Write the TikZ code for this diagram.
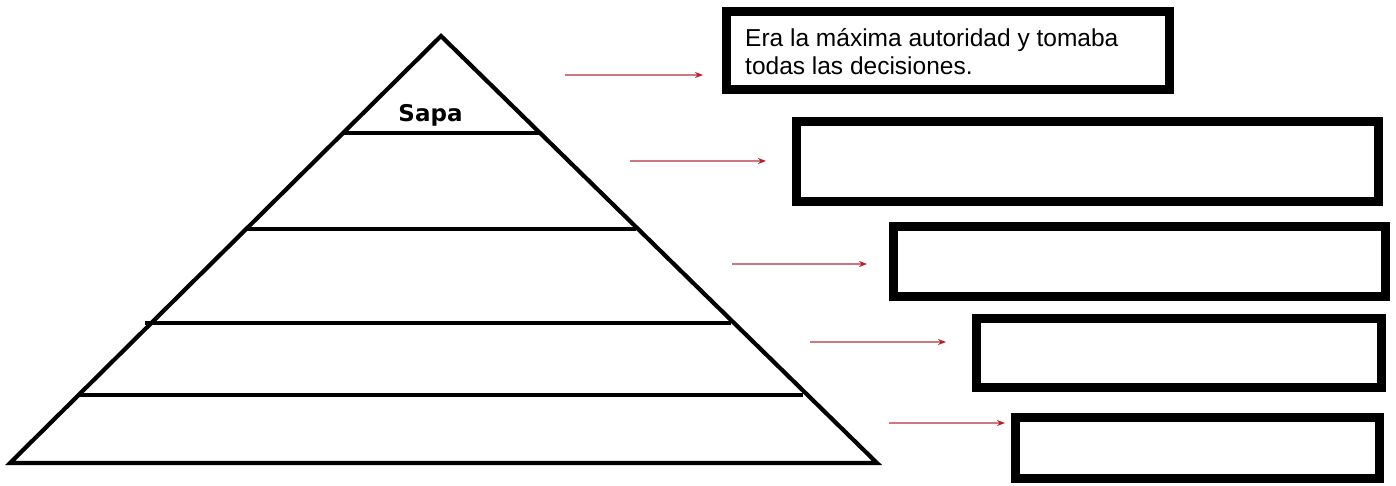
\documentclass[tikz,border=0pt]{standalone}
\usepackage{fontspec}
\setmainfont{Liberation Sans}
\newfontfamily\sapafont{DejaVu Sans}
\usetikzlibrary{arrows.meta}
\definecolor{arrline}{RGB}{205,120,128}
\definecolor{arrtip}{RGB}{190,30,40}
\tikzset{
  answerbox/.style={draw=black, line width=9pt, fill=white, inner sep=0pt},
  arr/.style={draw=arrline, line width=1.8pt, -{Stealth[length=8pt,width=6pt,color=arrtip]}},
  pyr/.style={line width=4.2pt, line join=miter, line cap=butt},
  tier/.style={line width=4pt}
}
\begin{document}
\begin{tikzpicture}[x=1pt,y=-1pt]
\useasboundingbox[fill=white] (0,0) rectangle (1396,485);
% pyramid
\coordinate (apex) at (441,36);
\coordinate (bl) at (10,463);
\coordinate (br) at (877,463);
\draw[pyr] (bl) -- (apex) -- (br) -- cycle;
\draw[tier] (343,133) -- (539,133);
\draw[tier] (246,229) -- (636,229);
\draw[tier] (145,323) -- (731,323);
\draw[tier] (79,395) -- (803,395);
\node[font=\sapafont\bfseries\fontsize{23}{26}\selectfont, anchor=base, inner sep=0pt] (sapa) at (430.5,121) {Sapa};
% boxes
\node[answerbox, minimum width=443pt, minimum height=78pt] (b1) at (948,50.5) {};
\node[answerbox, minimum width=582pt, minimum height=80pt] (b2) at (1087.5,161.5) {};
\node[answerbox, minimum width=492pt, minimum height=70pt] (b3) at (1139.5,261.5) {};
\node[answerbox, minimum width=405pt, minimum height=69pt] (b4) at (1179,353) {};
\node[answerbox, minimum width=364pt, minimum height=61pt] (b5) at (1197.5,448) {};
\node[font=\fontsize{24.5}{28}\selectfont, anchor=base west, inner sep=0pt, align=left] (t1) at (745,74) {Era la máxima autoridad y tomaba\\todas las decisiones.};
% arrows
\coordinate (a1) at (565,75);
\coordinate (a2) at (630,161);
\coordinate (a3) at (732,264);
\coordinate (a4) at (810,342);
\coordinate (a5) at (889,423);
\draw[arr, shorten >=19pt] (a1) -- (a1 -| b1.west);
\draw[arr, shorten >=26pt] (a2) -- (a2 -| b2.west);
\draw[arr, shorten >=22pt] (a3) -- (a3 -| b3.west);
\draw[arr, shorten >=26pt] (a4) -- (a4 -| b4.west);
\draw[arr, shorten >=6pt] (a5) -- (a5 -| b5.west);
\end{tikzpicture}
\end{document}
